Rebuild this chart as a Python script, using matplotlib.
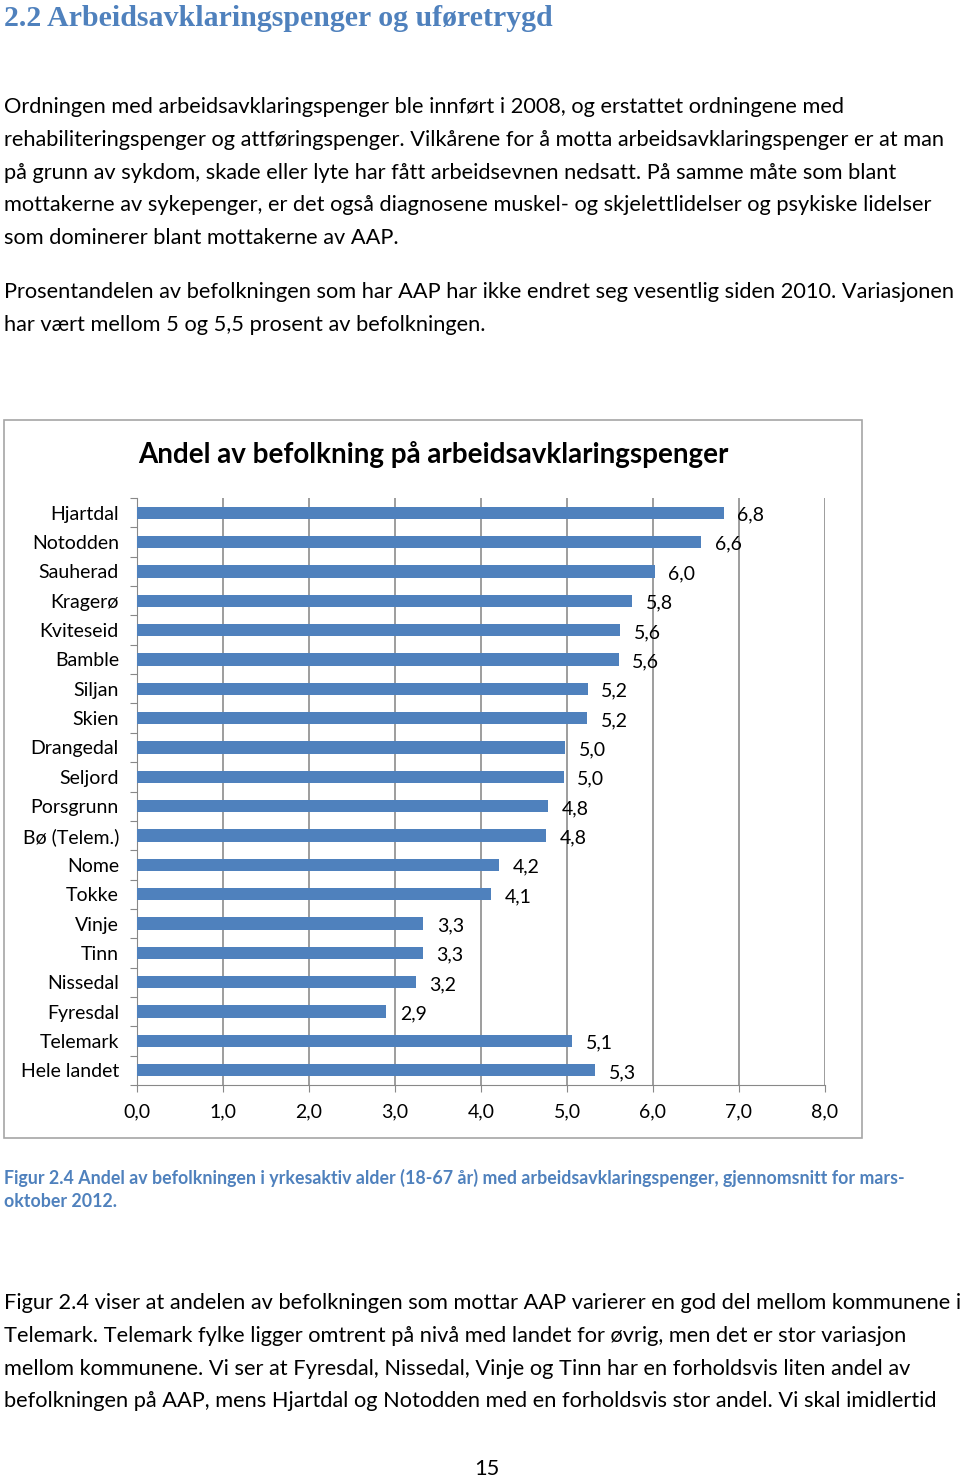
import matplotlib.pyplot as plt
from matplotlib.patches import Rectangle

# ---- data ----
kommuner = ["Hjartdal", "Notodden", "Sauherad", "Kragerø", "Kviteseid", "Bamble",
            "Siljan", "Skien", "Drangedal", "Seljord", "Porsgrunn", "Bø (Telem.)",
            "Nome", "Tokke", "Vinje", "Tinn", "Nissedal", "Fyresdal",
            "Telemark", "Hele landet"]
# labels show these rounded to one decimal
andel = [6.82, 6.56, 6.02, 5.76, 5.62, 5.60, 5.24, 5.23, 4.98, 4.96, 4.78, 4.76,
         4.21, 4.12, 3.33, 3.32, 3.24, 2.90, 5.06, 5.33]
x_ticks = [0, 1, 2, 3, 4, 5, 6, 7, 8]

heading = "2.2 Arbeidsavklaringspenger og uføretrygd"
para1 = ["Ordningen med arbeidsavklaringspenger ble innført i 2008, og erstattet ordningene med",
         "rehabiliteringspenger og attføringspenger. Vilkårene for å motta arbeidsavklaringspenger er at man",
         "på grunn av sykdom, skade eller lyte har fått arbeidsevnen nedsatt. På samme måte som blant",
         "mottakerne av sykepenger, er det også diagnosene muskel- og skjelettlidelser og psykiske lidelser",
         "som dominerer blant mottakerne av AAP."]
para2 = ["Prosentandelen av befolkningen som har AAP har ikke endret seg vesentlig siden 2010. Variasjonen",
         "har vært mellom 5 og 5,5 prosent av befolkningen."]
caption = ["Figur 2.4 Andel av befolkningen i yrkesaktiv alder (18-67 år) med arbeidsavklaringspenger, gjennomsnitt for mars-",
           "oktober 2012."]
para3 = ["Figur 2.4 viser at andelen av befolkningen som mottar AAP varierer en god del mellom kommunene i",
         "Telemark. Telemark fylke ligger omtrent på nivå med landet for øvrig, men det er stor variasjon",
         "mellom kommunene. Vi ser at Fyresdal, Nissedal, Vinje og Tinn har en forholdsvis liten andel av",
         "befolkningen på AAP, mens Hjartdal og Notodden med en forholdsvis stor andel. Vi skal imidlertid"]

W, H = 960, 1479
BLUE = "#4f81bd"
BODY = 15.7

plt.rcParams['font.family'] = ['Lato', 'DejaVu Sans']

fig = plt.figure(figsize=(W / 100, H / 100), dpi=100)


def fy(y):
    return 1 - y / H


def fx(x):
    return x / W


def comma(v):
    return f"{v:.1f}".replace(".", ",")


# ---- page text ----
fig.text(fx(4), fy(18), heading, family="Liberation Serif", fontweight="bold",
         fontsize=21.5, color=BLUE, va="center", ha="left")

for i, line in enumerate(para1):
    fig.text(fx(4), fy(107 + i * 32.8), line, fontsize=BODY, va="center")
for i, line in enumerate(para2):
    fig.text(fx(4), fy(292 + i * 33), line, fontsize=BODY, va="center")
for i, line in enumerate(caption):
    fig.text(fx(4), fy(1178 + i * 23.5), line, fontsize=12.8, fontweight="bold",
             color=BLUE, va="center")
for i, line in enumerate(para3):
    fig.text(fx(4), fy(1303 + i * 32.8), line, fontsize=BODY, va="center")
fig.text(fx(487), fy(1469), "15", fontsize=BODY, ha="center", va="center")

# ---- chart box ----
fig.patches.append(Rectangle((fx(4), fy(1138)), fx(858), 718 / H, transform=fig.transFigure,
                             fill=False, edgecolor="#a6a6a6", linewidth=1.2))
fig.text(fx(433), fy(455), "Andel av befolkning på arbeidsavklaringspenger",
         fontsize=20, fontweight="bold", ha="center", va="center")

ax = fig.add_axes([fx(137), fy(1085), fx(825 - 137), (1085 - 498) / H])
pos = list(range(len(kommuner)))
ax.barh(pos, andel, height=0.42, color=BLUE, zorder=3)
for p, v in zip(pos, andel):
    ax.text(v + 0.16, p + 0.08, comma(v), fontsize=14, va="center", ha="left", zorder=4)

ax.set_xlim(0, 8)
ax.set_ylim(len(kommuner) - 0.5, -0.5)
ax.set_xticks(x_ticks)
ax.set_xticklabels([comma(t) for t in x_ticks], fontsize=14)
ax.set_yticks([p - 0.5 for p in pos] + [len(kommuner) - 0.5])
ax.set_yticklabels([])
ax.set_yticks(pos, minor=True)
ax.set_yticklabels(kommuner, minor=True, fontsize=14)
ax.tick_params(axis="y", which="minor", length=0, pad=13)
ax.tick_params(axis="y", which="major", length=5, color="#888888", direction="out")
ax.tick_params(axis="x", length=5, color="#888888", direction="out", pad=8)
ax.grid(axis="x", color="#8c8c8c", linewidth=1.2, zorder=0)
for s in ["top", "right"]:
    ax.spines[s].set_visible(False)
ax.spines["left"].set_color("#888888")
ax.spines["bottom"].set_color("#888888")

fig.savefig("out.png", dpi=100)
